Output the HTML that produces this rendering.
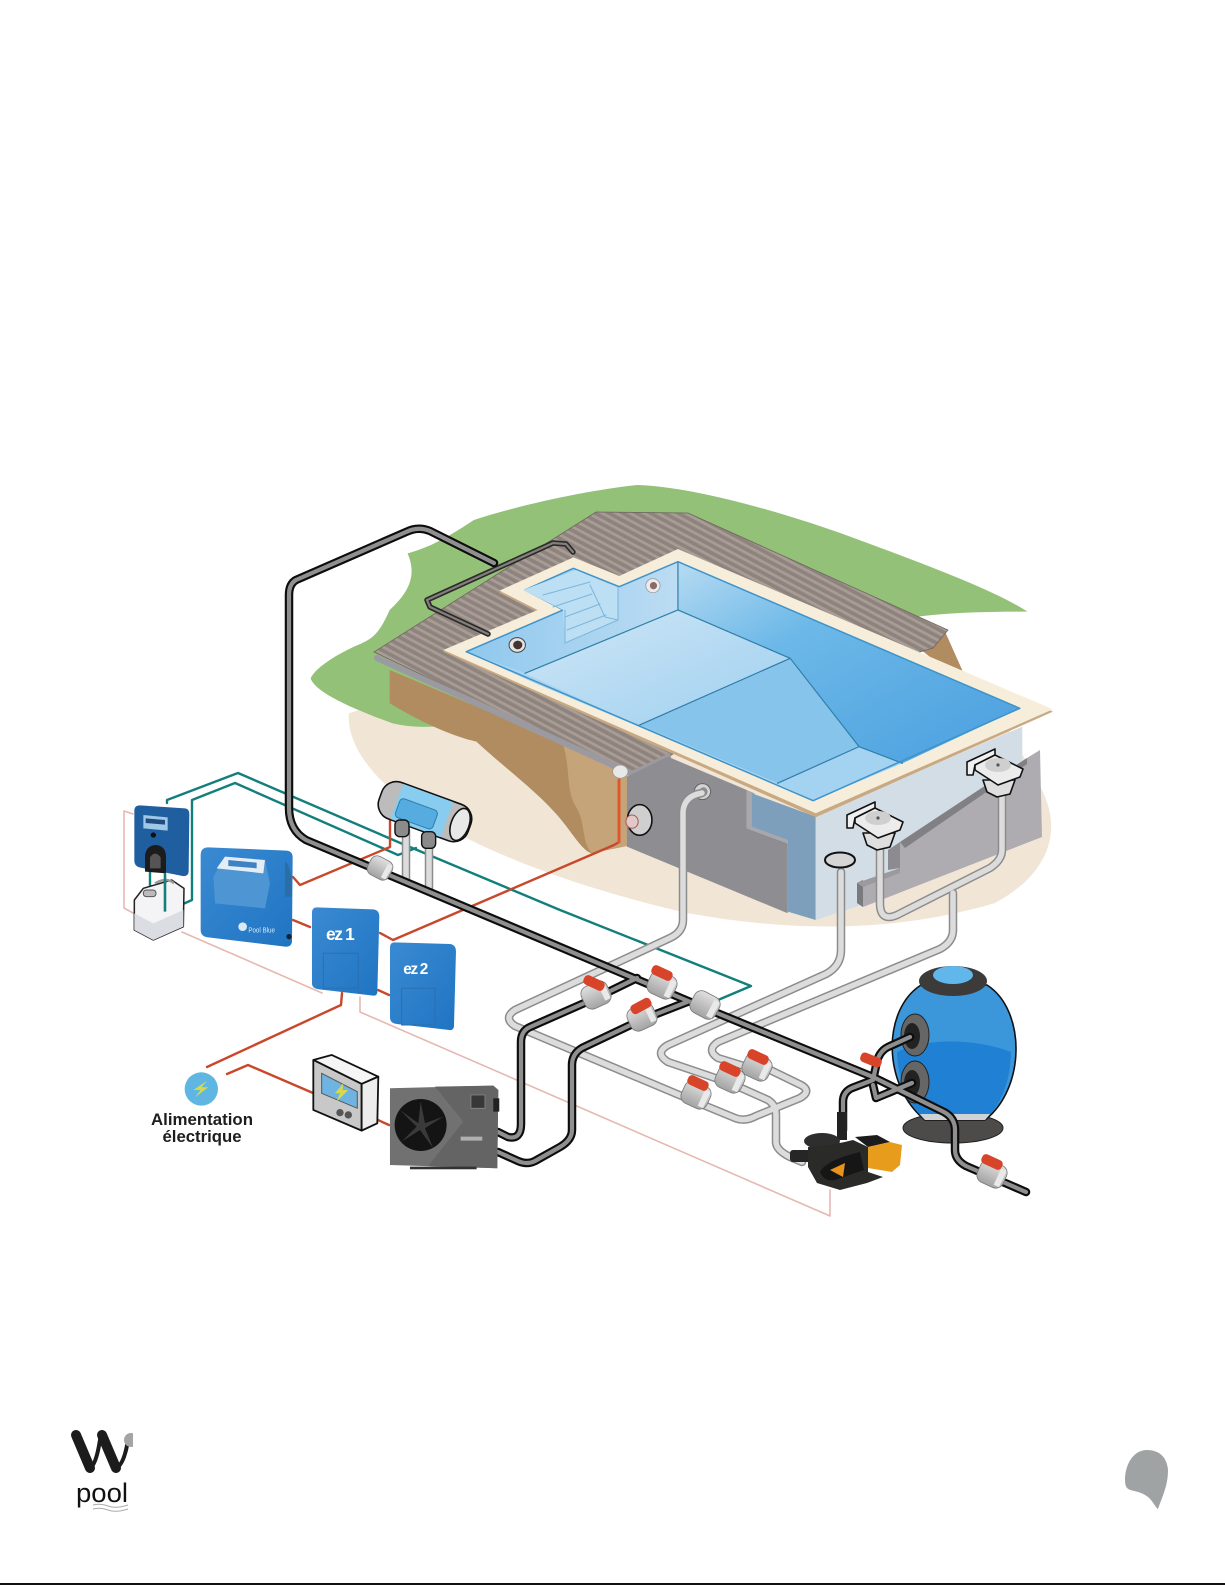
<!DOCTYPE html>
<html><head><meta charset="utf-8"><style>
html,body{margin:0;padding:0;background:#fff}
svg{display:block}
svg *{vector-effect:non-scaling-stroke}
.n{fill:none;stroke-linejoin:round;stroke-linecap:round}
.t{font-family:"Liberation Sans",sans-serif}
</style></head><body>
<svg width="1225" height="1585" viewBox="0 0 1225 1585" xmlns="http://www.w3.org/2000/svg">
<defs>
<pattern id="deck" width="7" height="6.5" patternUnits="userSpaceOnUse" patternTransform="rotate(28)">
<rect width="7" height="6.5" fill="#8f847d"/><rect width="7" height="2.8" fill="#a79d96"/>
</pattern>
<linearGradient id="fl" x1="0" y1="0" x2="1" y2="1"><stop offset="0" stop-color="#cfe6f6"/><stop offset="1" stop-color="#9fd0f0"/></linearGradient>
<linearGradient id="rw" x1="0" y1="0" x2="1" y2="1"><stop offset="0" stop-color="#b7dbf2"/><stop offset=".35" stop-color="#6cb8e8"/><stop offset="1" stop-color="#4a9fdf"/></linearGradient>
<linearGradient id="lw" x1="0" y1="0" x2="1" y2="0"><stop offset="0" stop-color="#8fc8ee"/><stop offset="1" stop-color="#bcdcf2"/></linearGradient>
<linearGradient id="val" x1="0" y1="0" x2="0" y2="1"><stop offset="0" stop-color="#e0e0e0"/><stop offset="1" stop-color="#a3a3a3"/></linearGradient>
<linearGradient id="blue" x1="0" y1="0" x2="1" y2="1"><stop offset="0" stop-color="#3a8ad2"/><stop offset="1" stop-color="#1f74c2"/></linearGradient>
<clipPath id="logoclip"><rect x="60" y="1425" width="73" height="60"/></clipPath>

<path id="gp1" d="M702,793 Q684,796 683,812 L683,920 Q683,932 670,938 L515,1010 Q503,1018 515,1026 L684,1097 L735,1118 Q745,1122 756,1116 L800,1098 Q812,1091 801,1085 L766,1068"/>
<path id="gp2" d="M841,872 L841,950 Q841,966 826,974 L668,1045 Q654,1053 668,1062 L730,1083 L768,1100 Q776,1105 776,1115 L776,1142 Q776,1150 790,1157 L802,1162"/>
<path id="gp3" d="M953,893 L953,930 Q953,942 940,949 L718,1042 Q706,1050 718,1058 L757,1070"/>
<path id="gp4" d="M880,848 L880,905 Q881,922 897,915 L990,868 Q1002,860 1002,850 L1002,795"/>
<path id="gp5" d="M406,830 L406,880 M429,845 L429,888"/>
<path id="bp1" d="M494,563 L430,531 Q418,526 406,532 L296,580 Q289,584 289,595 L289,808 Q289,830 306,840 L700,1006 L873,1077 L944,1112 Q955,1118 955,1130 L955,1150 Q955,1160 966,1166 L1026,1192"/>
<path id="bp2" d="M637,978 L598,997 L530,1027 Q521,1031 521,1042 L521,1124 Q521,1140 508,1137 L498,1132"/>
<path id="bp3" d="M687,1002 L641,1020 L582,1048 Q572,1054 572,1065 L572,1130 Q572,1140 560,1147 L535,1161 Q527,1165 518,1161 L498,1152"/>
<path id="bp4" d="M910,1037 L888,1047 Q878,1052 876,1066 L873,1080 L852,1088 Q843,1092 843,1102 L843,1130"/>
<path id="bp5" d="M873,1085 L876,1098 L912,1083"/>

<g id="valve"><rect x="-14" y="-12" width="28" height="24" rx="8" fill="url(#val)" stroke="#777" stroke-width=".8"/><rect x="6" y="-9" width="6" height="18" fill="#e9e9e9"/></g>
<g id="handle"><rect x="-11" y="-5" width="22" height="10" rx="4" fill="#d7442a"/></g>
</defs>

<rect width="1225" height="1585" fill="#fff"/>

<!-- ground -->
<g transform="translate(280,470) scale(.5102,.3333)">
<path d="M135,730 C130,830 190,950 300,1050 C420,1160 600,1260 800,1330 C1000,1385 1200,1390 1400,1300 C1500,1220 1540,1090 1490,950 L1400,700 L300,650 Z" fill="#f1e6d6"/>
<path d="M700,45 C610,60 480,100 380,150 C340,190 300,230 250,250 C270,320 250,370 215,420 C200,470 190,500 160,520 C120,545 70,590 60,625 C70,670 150,720 220,760 C260,775 300,772 330,765 L900,500 L1250,440 C1330,425 1420,425 1465,425 C1400,360 1260,280 1100,190 C950,110 800,50 700,45 Z" fill="#93c178"/>
<path d="M215,600 L215,700 C280,760 340,800 385,815 C430,880 500,960 540,1030 C570,1080 590,1140 610,1150 L690,1125 L680,900 Z" fill="#b08c60"/>
<path d="M555,825 C570,900 560,960 580,1010 C600,1060 590,1110 610,1148 L690,1125 L680,900 Z" fill="#c6a479"/>
<path d="M1240,520 L1305,490 L1340,610 L1290,580 Z" fill="#b08c60"/>
</g>

<!-- deck -->
<polygon points="374,652 596,512 688,513 948,630 933,648 760,700 668,757 632,775" fill="url(#deck)" stroke="#6f655f" stroke-width=".8"/>
<path d="M377,658 L632,774 L668,757" class="n" stroke="#9a9aa0" stroke-width="6"/>

<g transform="translate(280,470) scale(.5102,.3333)">
<!-- walls -->
<polygon points="680,920 760,860 915,960 915,1075 995,1120 995,1330 680,1130" fill="#8e8e92"/>
<polygon points="915,960 930,970 930,1070 995,1110 995,1120 915,1075" fill="#a8a8ac"/>
<polygon points="925,970 1050,1040 1050,1350 995,1325 995,1110 925,1070" fill="#7e9fbc"/>
<polygon points="1050,1035 1455,770 1455,1100 1130,1310 1050,1350" fill="#d3dde5"/>
<!-- coping -->
<polygon points="320,545 505,425 430,368 575,268 665,325 780,243 1515,725 1050,1042" fill="#c9a982"/>
<polygon points="320,540 505,420 430,362 575,262 665,318 780,237 1515,718 1050,1030" fill="#f6eedb"/>
<!-- water -->
<polygon points="365,545 555,420 480,360 575,295 665,350 780,275 780,420 480,610" fill="url(#lw)"/>
<polygon points="780,275 1450,715 1220,880 1135,830 1000,565 780,420" fill="url(#rw)"/>
<polygon points="480,610 780,420 1000,565 705,765" fill="url(#fl)"/>
<polygon points="705,765 1000,565 1135,830 975,940" fill="#86c4ec"/>
<polygon points="975,940 1135,830 1220,880 1045,992" fill="#a4d3f2"/>
<polygon points="365,545 480,610 705,765 975,940 1045,992 1000,960 500,640" fill="#a8d4f1"/>
<path d="M480,610 L780,420 L780,275 M780,420 L1000,565 L705,765 M1000,565 L1135,830 L975,940 M1135,830 L1220,880" class="n" stroke="#2f7ea8" stroke-width="1.2"/>
<path d="M365,545 L555,420 L480,360 L575,295 L665,350 L780,275 L1450,715 L1045,992 Z" class="n" stroke="#3e93c9" stroke-width="1.5"/>
<ellipse cx="465" cy="525" rx="16" ry="22" fill="#e4e4e4" stroke="#444" stroke-width="1"/><ellipse cx="466" cy="525" rx="9" ry="13" fill="#44342f"/>
<ellipse cx="731" cy="347" rx="14" ry="21" fill="#ececec" stroke="#999" stroke-width=".8"/><ellipse cx="732" cy="347" rx="7" ry="11" fill="#8c6a6a"/>
<!-- wall items -->
<ellipse cx="705" cy="1050" rx="24" ry="46" fill="#cfcfcf" stroke="#111" stroke-width="1.6"/><ellipse cx="690" cy="1055" rx="12" ry="20" fill="#e2c9c9" stroke="#a55" stroke-width="1"/>
<ellipse cx="828" cy="965" rx="16" ry="24" fill="#d3d3d3" stroke="#666" stroke-width="1"/><ellipse cx="830" cy="965" rx="8" ry="13" fill="#8d8d8d"/>
<ellipse cx="667" cy="905" rx="15" ry="20" fill="#e8e8e8" stroke="#999" stroke-width=".8"/>
</g>

<!-- steps -->
<polygon points="565,643 618,620 618,588 576,570 523,590 563,610" fill="#bcdff4"/>
<g class="n" stroke="#7cb6dc" stroke-width="1">
<path d="M543,595 L590,582 M553,607 L592,594 M565,617 L600,604 M567,630 L606,615"/>
<path d="M565,610 V643 L618,620 V588 M590,585 L605,617 L618,620"/>
</g>

<!-- concrete block -->
<polygon points="900,842 1027,758 1040,750 1042,837 863,907 857,903 857,883 900,868" fill="#aeacb0"/>
<polygon points="900,842 1027,758 1027,764 905,848" fill="#808085"/>
<polygon points="888,850 900,842 900,868 888,870" fill="#8b8b90"/>
<polygon points="857,883 863,880 863,907 857,903" fill="#7a7a7d"/>
<path d="M857,883 L900,868 L900,873 L863,887 Z" fill="#9b9b9f"/>

<!-- thin lines -->
<g class="n" stroke-width="1.6" stroke="#e6b8b2">
<path d="M133,814 L124,811 V908 L133,913"/>
<path d="M182,932 L322,993"/>
<path d="M360,997 V1012 L830,1216 V1190"/>
</g>
<g class="n" stroke-width="2.4" stroke="#137f7d">
<path d="M167,803 V800 L238,773 L398,842 L560,910 L751,986 L718,1000"/>
<path d="M165,887 V912 L192,900 V800 L235,783 L398,855 L416,848"/>
<path d="M150,870 V892"/>
</g>
<g class="n" stroke-width="2.4" stroke="#c9482c">
<path d="M293,877 L300,885 L390,847 V817"/>
<path d="M293,920 L310,927"/>
<path d="M380,933 L393,940 L614,845 L619,842 V780"/>
<path d="M378,990 L389,995"/>
<path d="M342,993 L341,1005 L207,1067"/>
<path d="M227,1074 L248,1065 L313,1093"/>
<path d="M369,1116 L389,1125"/>
</g>
<path d="M619,780 V842" class="n" stroke="#e2562b" stroke-width="3"/>

<!-- deck pipes -->
<path d="M573,552 L566,544 L553,543 L427,600 L430,607 L488,634" class="n" stroke="#2a2a2a" stroke-width="5.5"/>
<path d="M573,552 L566,544 L553,543 L427,600 L430,607 L488,634" class="n" stroke="#857f7b" stroke-width="2.2"/>

<!-- filter -->
<ellipse cx="953" cy="1128" rx="50" ry="15" fill="#4d4a4a" stroke="#222" stroke-width="1"/>
<path d="M921,985 C882,1010 882,1085 925,1120 L985,1120 C1026,1088 1026,1010 987,985 Z" fill="#3b97da" stroke="#111" stroke-width="1.6"/>
<path d="M897,1052 C925,1038 975,1038 1011,1052 C1010,1085 1000,1105 985,1120 L925,1120 C908,1105 898,1080 897,1052 Z" fill="#1f80d4"/>
<path d="M925,1120 L985,1120 L990,1114 L920,1114 Z" fill="#cfd3d6"/>
<ellipse cx="953" cy="981" rx="34" ry="15" fill="#3d3a3a"/>
<ellipse cx="953" cy="975" rx="20" ry="9" fill="#62b7ea"/>
<ellipse cx="915" cy="1035" rx="14" ry="21" fill="#666" stroke="#222" stroke-width="1"/><ellipse cx="912" cy="1036" rx="8" ry="13" fill="#222"/>
<ellipse cx="915" cy="1082" rx="14" ry="21" fill="#666" stroke="#222" stroke-width="1"/><ellipse cx="912" cy="1083" rx="8" ry="13" fill="#222"/>

<!-- grey pipes -->
<g class="n" stroke="#8c8c8c" stroke-width="8.5"><use href="#gp1"/><use href="#gp2"/><use href="#gp3"/><use href="#gp4"/><use href="#gp5"/></g>
<g class="n" stroke="#dcdcdc" stroke-width="5.5"><use href="#gp1"/><use href="#gp2"/><use href="#gp3"/><use href="#gp4"/><use href="#gp5"/></g>

<!-- black pipes -->
<g class="n" stroke="#0c0c0c" stroke-width="8.5"><use href="#bp1"/><use href="#bp2"/><use href="#bp3"/><use href="#bp4"/><use href="#bp5"/></g>
<g class="n" stroke="#8f8f8f" stroke-width="4.2"><use href="#bp1"/><use href="#bp2"/><use href="#bp3"/><use href="#bp4"/><use href="#bp5"/></g>

<!-- pump -->
<rect x="790" y="1150" width="24" height="12" rx="3" fill="#262626"/>
<path d="M837,1112 H847 V1140 H837 Z" fill="#222"/>
<ellipse cx="822" cy="1141" rx="18" ry="8" fill="#2e2e2e"/>
<path d="M855,1137 L877,1135 L890,1142 L868,1147 Z" fill="#1c1c1c"/>
<path d="M868,1147 L890,1142 L902,1145 L900,1165 L892,1172 L868,1168 Z" fill="#e89c1c"/>
<path d="M808,1147 Q830,1146 853,1140 L868,1147 V1172 L883,1177 L867,1183 L840,1190 L817,1183 L808,1167 Z" fill="#2a2a28"/>
<path d="M820,1172 Q826,1160 860,1152 L864,1170 L835,1180 Q824,1182 820,1172 Z" fill="#161616"/>
<path d="M830,1170 L845,1163 L843,1177 Z" fill="#e8931e"/>

<!-- valves -->
<use href="#valve" transform="translate(596,995) rotate(-25)"/><use href="#handle" transform="translate(594,983) rotate(25)"/>
<use href="#valve" transform="translate(662,985) rotate(25)"/><use href="#handle" transform="translate(662,973) rotate(25)"/>
<use href="#valve" transform="translate(642,1017) rotate(-25)"/><use href="#handle" transform="translate(641,1006) rotate(-28)"/>
<use href="#valve" transform="translate(705,1005) rotate(28)"/>
<use href="#valve" transform="translate(696,1095) rotate(25)"/><use href="#handle" transform="translate(698,1083) rotate(25)"/>
<use href="#valve" transform="translate(730,1079) rotate(25)"/><use href="#handle" transform="translate(730,1069) rotate(25)"/>
<use href="#valve" transform="translate(757,1067) rotate(25)"/><use href="#handle" transform="translate(758,1057) rotate(25)"/>
<use href="#valve" transform="translate(992,1174) rotate(25)"/><use href="#handle" transform="translate(992,1162) rotate(25)"/>
<use href="#handle" transform="translate(871,1060) rotate(22)"/>
<use href="#valve" transform="translate(380,868) rotate(28) scale(.85)"/>

<!-- skimmers -->
<g id="skA" stroke="#111" stroke-width="1.6" stroke-linejoin="round">
<polygon points="847,815 875,802 875,808 855,818 853,828 847,828" fill="#f0f0f0"/>
<polygon points="863,833 895,833 890,847 877,850 867,845" fill="#dedede"/>
<polygon points="855,818 875,808 903,822 900,830 878,838 855,823" fill="#ececec"/>
<ellipse cx="878" cy="818" rx="13" ry="7" fill="#cfcfcf" stroke="none"/><circle cx="878" cy="818" r="1.6" fill="#555" stroke="none"/>
</g>
<use href="#skA" transform="translate(120,-53)"/>
<ellipse cx="840" cy="860" rx="15" ry="7.5" fill="#d5d5d5" stroke="#111" stroke-width="2"/>

<!-- devices -->
<g transform="translate(100,740) scale(.3333)">
<!-- chlorinator -->
<g transform="translate(975,215) rotate(20)">
<rect x="-142" y="-58" width="284" height="116" rx="46" fill="#bcbcbc" stroke="#111" stroke-width="1.6"/>
<rect x="-90" y="-56" width="160" height="112" fill="#88cdf0"/>
<rect x="-82" y="-15" width="120" height="60" rx="12" fill="#56acdf" stroke="#2c7db0" stroke-width="1"/>
<ellipse cx="112" cy="0" rx="27" ry="50" fill="#e8e8e8" stroke="#111" stroke-width="1.6"/>
</g>
<rect x="885" y="240" width="42" height="50" rx="14" fill="#8b8b8b" stroke="#111" stroke-width="1.4"/>
<rect x="965" y="275" width="42" height="50" rx="14" fill="#8b8b8b" stroke="#111" stroke-width="1.4"/>
<!-- canister -->
<path d="M103,480 L103,570 L160,600 L250,560 L252,445 L215,420 L130,445 Z" fill="#f4f4f6" stroke="#222" stroke-width="1.5" stroke-linejoin="round"/>
<path d="M103,520 L160,550 L250,510 V560 L160,600 L103,570 Z" fill="#dcdce3"/>
<rect x="130" y="450" width="38" height="20" rx="9" fill="#bbb" stroke="#555" stroke-width="1"/>
<path d="M165,430 Q200,410 222,430" fill="none" stroke="#999" stroke-width="2.5"/>
<!-- doser -->
<path d="M120,196 L255,205 Q268,206 268,222 L266,395 Q265,410 248,408 L118,382 Q103,378 103,362 V212 Q103,196 120,196 Z" fill="#1f5f9f"/>
<polygon points="130,225 203,232 203,272 130,265" fill="#9fc7e6"/>
<polygon points="137,235 195,240 195,254 137,249" fill="#1f4c80"/>
<circle cx="160" cy="285" r="8" fill="#111"/>
<path d="M135,395 V345 Q140,315 170,315 Q198,320 198,350 V400 Z" fill="#1c1c1c"/>
<path d="M150,385 V352 Q165,330 182,352 V385 Z" fill="#555"/>
<path d="M195,400 V515" fill="none" stroke="#137f7d" stroke-width="2.6"/>
<!-- pool blue -->
<path d="M325,322 L560,332 Q578,334 578,352 L576,605 Q574,622 555,620 L325,592 Q302,590 302,570 V345 Q302,322 325,322 Z" fill="url(#blue)"/>
<polygon points="375,350 495,360 510,430 495,505 345,490 340,410" fill="#4e95d4"/>
<polygon points="375,350 495,360 490,400 350,385" fill="#e4edf5"/>
<polygon points="385,360 470,368 470,385 385,378" fill="#3d83c4"/>
<path d="M555,365 Q578,380 575,470 L555,470 Z" fill="#2a6ea8"/>
<circle cx="567" cy="590" r="8" fill="#123"/>
<circle cx="428" cy="560" r="13" fill="#dbe9f4"/>
<text x="445" y="578" class="t" font-size="23" fill="#dbe9f4" textLength="80" lengthAdjust="spacingAndGlyphs">Pool Blue</text>
<!-- ez -->
<path d="M650,502 L820,508 Q838,510 838,530 L832,758 Q830,768 820,767 L655,748 Q636,745 636,730 V518 Q636,502 650,502 Z" fill="url(#blue)"/>
<rect x="670" y="640" width="105" height="105" fill="none" stroke="#2a6fb0" stroke-width="1"/>
<text x="678" y="600" class="t" font-size="52" font-weight="bold" fill="#fff" letter-spacing="-4">ez 1</text>
<path d="M884,607 L1050,612 Q1068,614 1068,635 L1062,860 Q1060,872 1048,870 L890,852 Q870,850 870,832 V622 Q870,607 884,607 Z" fill="url(#blue)"/>
<rect x="905" y="745" width="100" height="110" fill="none" stroke="#2a6fb0" stroke-width="1"/>
<text x="910" y="702" class="t" font-size="46" font-weight="bold" fill="#fff" letter-spacing="-4">ez 2</text>
<!-- icon -->
<circle cx="304" cy="1047" r="50" fill="#5fb6e2"/>
<polygon points="322,1022 280,1050 302,1050 285,1072 325,1042 305,1042" fill="#d8d94a"/>
<!-- thermostat -->
<polygon points="640,960 695,945 835,1010 785,1032" fill="#f5f5f5" stroke="#111" stroke-width="1.8" stroke-linejoin="round"/>
<polygon points="640,960 785,1032 785,1172 640,1110" fill="#c8c8c8" stroke="#111" stroke-width="1.8" stroke-linejoin="round"/>
<polygon points="785,1032 835,1010 832,1150 785,1172" fill="#ececec" stroke="#111" stroke-width="1.8" stroke-linejoin="round"/>
<polygon points="665,1000 772,1055 772,1105 665,1060" fill="#6fb3e0" stroke="#555" stroke-width="1"/>
<polygon points="730,1030 705,1060 720,1060 710,1085 745,1050 728,1050" fill="#d8d94a"/>
<circle cx="720" cy="1118" r="11" fill="#555"/><circle cx="745" cy="1125" r="11" fill="#555"/>
<!-- heat pump -->
<polygon points="870,1045 1180,1037 1195,1050 1192,1285 870,1275" fill="#717171"/>
<polygon points="1005,1040 1180,1037 1195,1050 1192,1285 985,1278 1090,1145" fill="#646464"/>
<circle cx="962" cy="1155" r="78" fill="#141414"/>
<path d="M962,1085 L975,1150 L1030,1130 L975,1165 L1000,1225 L960,1170 L905,1205 L950,1160 L900,1110 L955,1150 Z" fill="#3a3a3a"/>
<rect x="1113" y="1065" width="42" height="40" fill="#383838" stroke="#888" stroke-width=".8"/>
<rect x="1180" y="1075" width="18" height="40" fill="#222"/>
<rect x="1082" y="1190" width="65" height="12" fill="#c9c9c9" opacity=".75"/>
<rect x="930" y="1280" width="200" height="8" fill="#333"/>
</g>

<text x="202" y="1125" text-anchor="middle" class="t" font-size="17" font-weight="bold" fill="#1d1d1d" textLength="102" lengthAdjust="spacingAndGlyphs">Alimentation</text>
<text x="202" y="1142" text-anchor="middle" class="t" font-size="17" font-weight="bold" fill="#1d1d1d" textLength="79" lengthAdjust="spacingAndGlyphs">électrique</text>

<!-- logos -->
<g clip-path="url(#logoclip)">
<path d="M76,1435 L90,1468 M102,1435 L116,1468" class="n" stroke="#1c1c1c" stroke-width="10"/>
<path d="M90,1468 Q96,1465 100,1440 M116,1468 Q124,1465 128,1440" class="n" stroke="#1c1c1c" stroke-width="4"/>
<circle cx="131" cy="1440" r="7" fill="#a3a5a6"/>
</g>
<text x="76" y="1502" class="t" font-size="27" fill="#111" textLength="52" lengthAdjust="spacingAndGlyphs">pool</text>
<path d="M93,1505 Q100,1503 108,1506 T128,1505 M93,1509 Q100,1507 108,1510 T128,1509" fill="none" stroke="#aaa" stroke-width="1"/>
<path d="M1147,1450 C1133,1450 1125,1465 1125,1480 C1125,1495 1135,1487 1148,1497 C1152,1500 1156,1508 1158,1509 C1163,1495 1168,1485 1168,1470 C1167,1458 1160,1450 1147,1450 Z" fill="#a0a3a4"/>
<rect x="0" y="1583" width="1225" height="2" fill="#111"/>
</svg>
</body></html>
